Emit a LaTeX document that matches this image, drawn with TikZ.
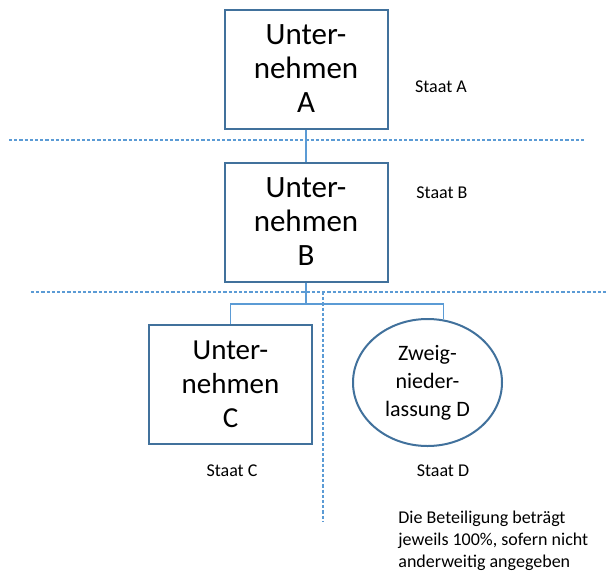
\documentclass[tikz,border=0pt]{standalone}
\usepackage{fontspec}
\setmainfont{Carlito}
\usetikzlibrary{shapes.geometric}
\definecolor{boxblue}{RGB}{65,113,156}
\definecolor{lineblue}{RGB}{91,155,213}
\begin{document}
\begin{tikzpicture}[x=0.5pt, y=-0.5pt,
  firm/.style={draw=boxblue, line width=1pt, fill=white, align=center,
    minimum width=81.5pt, minimum height=59.5pt, inner sep=0pt,
    font=\fontsize{15.5}{17}\selectfont},
  branch/.style={ellipse, draw=boxblue, line width=1pt, fill=white,
    align=center, minimum width=74.5pt, minimum height=63.5pt, inner sep=0pt,
    font=\fontsize{11}{14}\selectfont},
  state/.style={font=\fontsize{9}{11}\selectfont, inner sep=0pt},
  link/.style={draw=lineblue, line width=0.6pt},
  border/.style={draw=lineblue, line width=0.6pt, dash pattern=on 1.6pt off 1pt},
]
  \useasboundingbox (0,0) rectangle (606,574);

  % state borders
  \coordinate (h1w) at (9,140);
  \coordinate (h1e) at (585,140);
  \coordinate (h2w) at (31,292);
  \coordinate (h2e) at (606,292);
  \coordinate (vtop) at (323,292);
  \coordinate (vbot) at (323,522);
  \draw[border] (h1w) -- (h1e);
  \draw[border] (h2w) -- (h2e);
  \draw[border] (vtop) -- (vbot);

  % companies
  \node[firm] (A) at (306,69) {Unter-\\nehmen\\A};
  \node[firm] (B) at (306,222) {Unter-\\nehmen\\B};
  \node[firm, font=\fontsize{14.5}{17}\selectfont] (C) at (230.5,384.5)
    {Unter-\\nehmen\\C};
  \node[branch] (D) at (427.5,382.5) {Zweig-\\nieder-\\lassung D};

  % holdings
  \coordinate (fork) at (306,304);
  \draw[link] (A) -- (B);
  \draw[link] (B.south) -- (fork);
  \draw[link] (C.north) |- (fork) -| (D.76);

  % labels
  \node[state] (sA) at (441,87) {Staat A};
  \node[state] (sB) at (442,193) {Staat B};
  \node[state] (sC) at (232,471) {Staat C};
  \node[state] (sD) at (443,471) {Staat D};
  \node[state, anchor=west, align=left] (note) at (398,541)
    {Die Beteiligung beträgt\\jeweils 100\%, sofern nicht\\anderweitig angegeben};
\end{tikzpicture}
\end{document}
